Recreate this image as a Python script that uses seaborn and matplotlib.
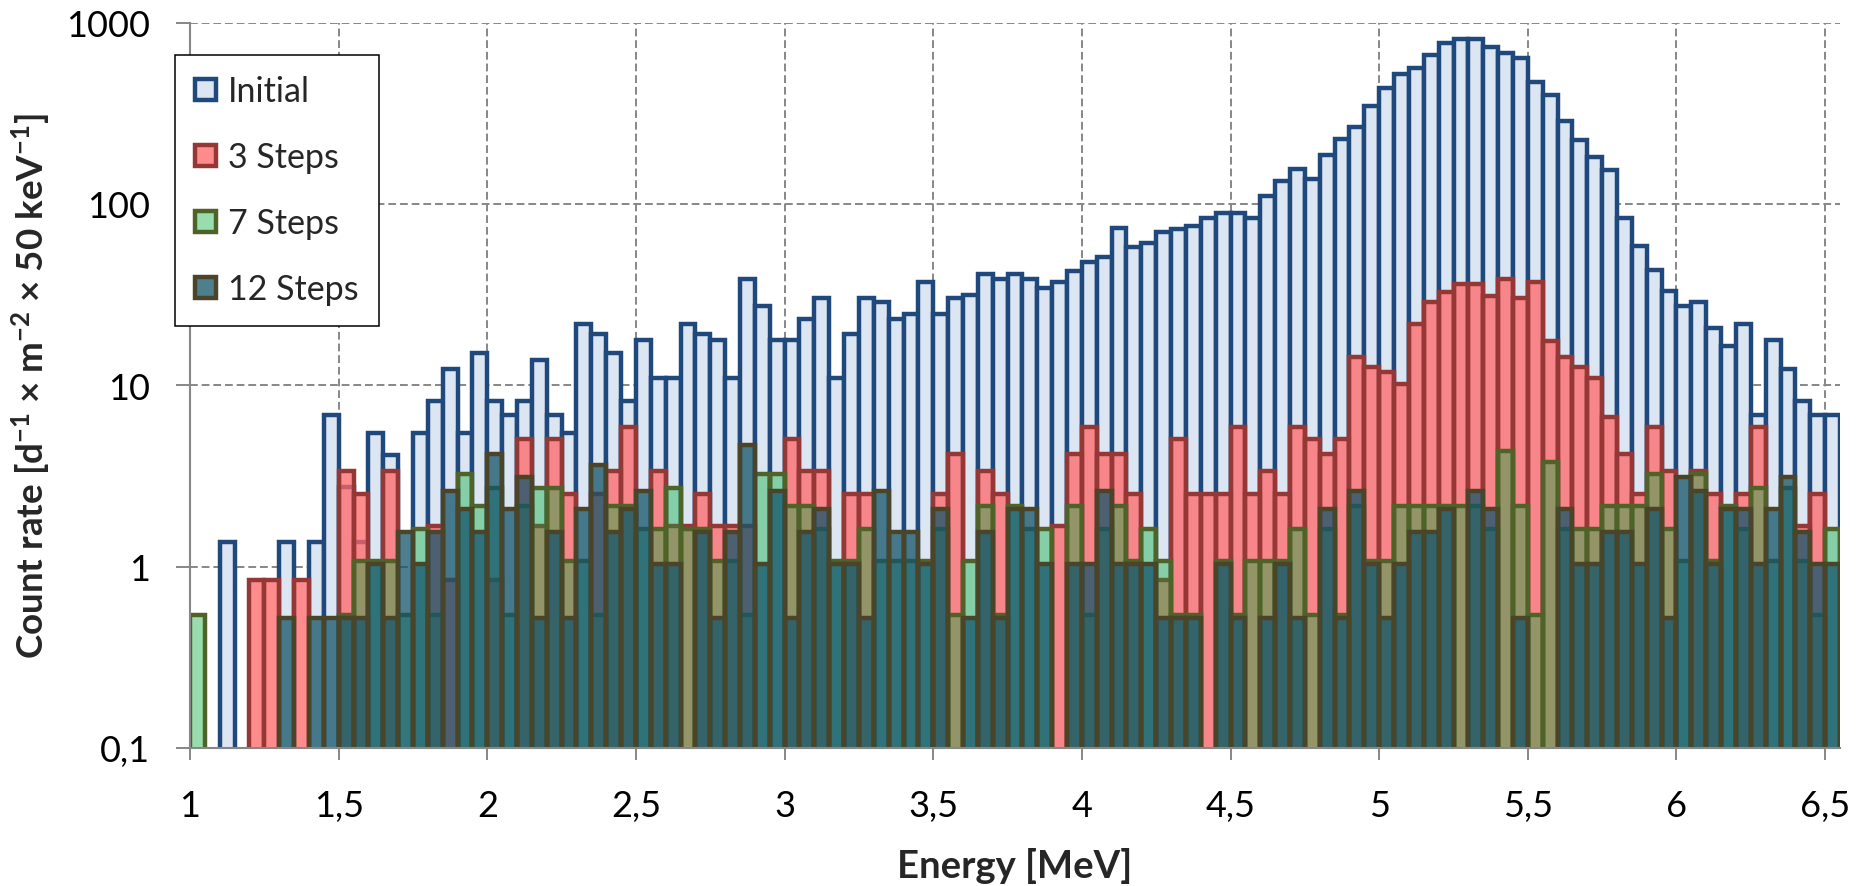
import numpy as np
import pandas as pd
import matplotlib
matplotlib.use("Agg")
import matplotlib.pyplot as plt
import matplotlib.patches as mpatches
from matplotlib.colors import to_rgba
from matplotlib.ticker import FixedLocator, FixedFormatter, NullLocator
import seaborn as sns

# ---------------- data ----------------
energy_start = 1.0      # MeV, left edge of first bin
bin_width = 0.05        # MeV (50 keV bins)
n_bins = 111

series_names = ["Initial", "3 Steps", "7 Steps", "12 Steps"]

initial = [0, 0, 1.37, 0, 0, 0, 1.37, 0, 1.37, 6.85,
           2.74, 1.37, 5.48, 4.11, 0, 5.48, 8.22, 12.33, 5.48, 15.07,
           8.22, 6.85, 8.22, 13.7, 6.85, 5.48, 21.9, 19.2, 15.07, 8.22,
           17.8, 10.96, 10.96, 21.9, 19.2, 17.8, 10.96, 38.4, 27.4, 17.8,
           17.8, 23.3, 30.1, 10.96, 19.2, 30.1, 28.8, 23.3, 24.7, 37.0,
           24.7, 30.1, 31.5, 41.1, 38.4, 41.1, 38.4, 34.3, 37.0, 42.5,
           48.0, 50.7, 74.0, 57.5, 61.0, 69.9, 72.6, 75.4, 83.6, 89.0,
           89.0, 83.6, 111, 133, 155, 137, 185, 227, 266, 347,
           438, 518, 560, 662, 772, 811, 811, 735, 683, 634,
           472, 397, 285, 226, 182, 153, 83.6, 58.9, 43.2, 32.9,
           27.4, 28.8, 20.6, 16.4, 21.9, 6.85, 17.8, 12.3, 8.22, 6.85,
           6.85]

steps3 = [0, 0, 0, 0, 0.84, 0.84, 0, 0.84, 0, 0,
          3.36, 2.52, 0, 3.36, 0, 0, 1.68, 0.84, 0, 0,
          0.84, 0, 5.04, 1.68, 5.04, 2.52, 0, 2.52, 3.36, 5.88,
          0, 3.36, 1.68, 1.68, 2.52, 1.68, 1.68, 1.68, 0, 0,
          5.04, 3.36, 3.36, 0, 2.52, 2.52, 0, 0, 0, 0,
          2.52, 4.2, 0, 3.36, 2.52, 0, 0, 0, 1.68, 4.2,
          5.88, 4.2, 4.2, 2.52, 0, 0.84, 5.04, 2.52, 2.52, 2.52,
          5.88, 2.52, 3.36, 2.52, 5.88, 5.04, 4.2, 5.04, 14.3, 12.6,
          11.8, 10.1, 21.8, 28.6, 32.8, 36.1, 36.1, 31.1, 38.6, 30.2,
          37.0, 17.6, 14.3, 12.6, 10.9, 6.72, 4.2, 2.52, 5.88, 3.36,
          0, 3.36, 2.52, 0, 2.52, 5.88, 0, 0, 1.68, 2.52,
          0]

steps7 = [0.54, 0, 0, 0, 0, 0, 0, 0, 0, 0,
          0.54, 1.08, 1.08, 1.08, 0.54, 1.62, 0.54, 0, 3.24, 2.16,
          2.7, 0.54, 2.16, 2.7, 2.7, 1.08, 1.08, 0.54, 2.16, 2.16,
          1.62, 1.62, 2.7, 1.62, 1.62, 1.08, 1.08, 0.54, 3.24, 3.24,
          2.16, 2.16, 1.62, 1.08, 1.08, 1.62, 1.08, 1.08, 1.08, 1.08,
          1.62, 0.54, 1.08, 2.16, 0.54, 2.16, 1.62, 1.62, 0, 2.16,
          0.54, 1.62, 2.16, 1.08, 1.62, 1.08, 0.54, 0.54, 0, 1.08,
          0.54, 1.08, 1.08, 1.08, 1.62, 0.54, 1.62, 0.54, 2.16, 1.08,
          1.08, 2.16, 2.16, 2.16, 2.16, 2.16, 2.16, 1.62, 4.32, 2.16,
          0.54, 3.78, 1.62, 1.62, 1.62, 2.16, 2.16, 2.16, 3.24, 1.62,
          1.08, 3.24, 1.08, 2.16, 1.62, 2.7, 1.08, 2.7, 1.08, 0.54,
          1.62]

steps12 = [0, 0, 0, 0, 0, 0, 0.52, 0, 0.52, 0.52,
           0.52, 0.52, 1.04, 0.52, 1.56, 1.04, 1.56, 2.6, 2.08, 1.56,
           4.16, 2.08, 3.12, 0.52, 1.56, 0.52, 2.08, 3.64, 1.56, 2.08,
           2.6, 1.04, 1.04, 0, 1.56, 0.52, 1.56, 4.68, 1.04, 2.6,
           0.52, 1.56, 2.08, 1.04, 1.04, 0.52, 2.6, 1.56, 1.56, 1.04,
           2.08, 0, 0.52, 1.56, 0.52, 2.08, 2.08, 1.04, 0, 1.04,
           1.04, 2.6, 1.04, 1.04, 1.04, 0.52, 0.52, 0.52, 0, 1.04,
           0.52, 0, 0.52, 1.04, 0.52, 0, 2.08, 0.52, 2.6, 1.04,
           0.52, 1.04, 1.56, 1.56, 2.08, 0, 2.6, 2.08, 0, 0.52,
           0, 0, 2.08, 1.04, 1.04, 1.56, 1.56, 1.04, 2.08, 0.52,
           3.12, 2.6, 1.04, 2.08, 2.08, 1.04, 2.08, 3.12, 1.56, 1.04,
           1.04]

x_tick_values = [1, 1.5, 2, 2.5, 3, 3.5, 4, 4.5, 5, 5.5, 6, 6.5]
x_tick_labels = ["1", "1,5", "2", "2,5", "3", "3,5", "4", "4,5", "5", "5,5", "6", "6,5"]
y_tick_values = [0.1, 1, 10, 100, 1000]
y_tick_labels = ["0,1", "1", "10", "100", "1000"]

# ---------------- styling ----------------
sns.set_style("white")
plt.rcParams["font.family"] = ["Lato", "DejaVu Sans"]
plt.rcParams["mathtext.fontset"] = "custom"
plt.rcParams["mathtext.rm"] = "Lato"
plt.rcParams["mathtext.bf"] = "Lato:bold"
plt.rcParams["mathtext.it"] = "Lato:italic"

styles = {
    "Initial":  dict(color="#DCE6F2", alpha=1.0, edge="#1F497D"),
    "3 Steps":  dict(color="#FF6666", alpha=0.75, edge="#953735"),
    "7 Steps":  dict(color="#00AC39", alpha=0.40, edge="#4F6228"),
    "12 Steps": dict(color="#14546A", alpha=0.75, edge="#4A4429"),
}
bar_lw = 3.2
gray = "#878787"

W, H = 1864, 887
fig = plt.figure(figsize=(W / 100, H / 100), dpi=100)
fig.patch.set_facecolor("white")
ax_left, ax_right, ax_top, ax_bottom = 190, 1840, 23.5, 749
ax = fig.add_axes([ax_left / W, 1 - ax_bottom / H,
                   (ax_right - ax_left) / W, (ax_bottom - ax_top) / H])

edges = [round(energy_start + bin_width * i, 4) for i in range(n_bins + 1)]
centers = [round(e + bin_width / 2, 4) for e in edges[:-1]]

for name, values in zip(series_names, [initial, steps3, steps7, steps12]):
    st = styles[name]
    part = pd.DataFrame({"energy": centers, "rate": values})
    sns.histplot(data=part, x="energy", weights="rate", bins=edges, ax=ax,
                 element="bars", fill=True, color=st["color"], alpha=st["alpha"],
                 edgecolor=st["edge"], linewidth=bar_lw)

# drop empty bars
for p in list(ax.patches):
    if p.get_height() <= 0:
        p.remove()

ax.set_yscale("log")
ax.set_ylim(0.1, 1000)
ax.set_xlim(edges[0], edges[-1])

ax.xaxis.set_major_locator(FixedLocator(x_tick_values))
ax.xaxis.set_major_formatter(FixedFormatter(x_tick_labels))
ax.yaxis.set_major_locator(FixedLocator(y_tick_values))
ax.yaxis.set_major_formatter(FixedFormatter(y_tick_labels))
ax.yaxis.set_minor_locator(NullLocator())
ax.xaxis.set_minor_locator(NullLocator())

ax.set_axisbelow(True)
ax.grid(True, which="major", axis="both", color=gray,
        linestyle=(0, (4, 2)), linewidth=1.4)

for s in ["top", "right"]:
    ax.spines[s].set_visible(False)
for s in ["left", "bottom"]:
    ax.spines[s].set_color(gray)
    ax.spines[s].set_linewidth(1.5)
    ax.spines[s].set_zorder(5)

ax.tick_params(axis="y", which="major", direction="out", length=10, width=1.4,
               color=gray, pad=19, labelsize=26, labelcolor="black", left=True)
ax.tick_params(axis="x", which="major", direction="out", length=8.6, width=1.4,
               color=gray, pad=21, labelsize=26, labelcolor="black", bottom=True)

ax.set_xlabel("Energy [MeV]", fontsize=27.5, fontweight="bold")
ax.xaxis.set_label_coords(0.5, -0.136)
ax.set_ylabel(r"Count rate [d$^{\mathbf{-1}}$ × m$^{\mathbf{-2}}$ × 50 keV$^{\mathbf{-1}}$]",
              fontsize=26.5, fontweight="bold")
ax.yaxis.set_label_coords(-0.083, 0.5)

handles = [mpatches.Patch(facecolor=to_rgba(styles[n]["color"], styles[n]["alpha"]),
                          edgecolor=styles[n]["edge"], linewidth=bar_lw, label=n)
           for n in series_names]
leg = ax.legend(handles=handles, loc="upper left",
                bbox_to_anchor=((174.7 - ax_left) / (ax_right - ax_left),
                                (ax_bottom - 56) / (ax_bottom - ax_top)),
                borderaxespad=0, fontsize=24.5, frameon=True, fancybox=False,
                framealpha=1, edgecolor="black", borderpad=0.6,
                labelspacing=1.0, handlelength=0.62, handleheight=0.55,
                handletextpad=0.35)
leg.get_frame().set_linewidth(1.1)
leg.set_zorder(10)

fig.savefig("out.png", dpi=100, facecolor="white")
